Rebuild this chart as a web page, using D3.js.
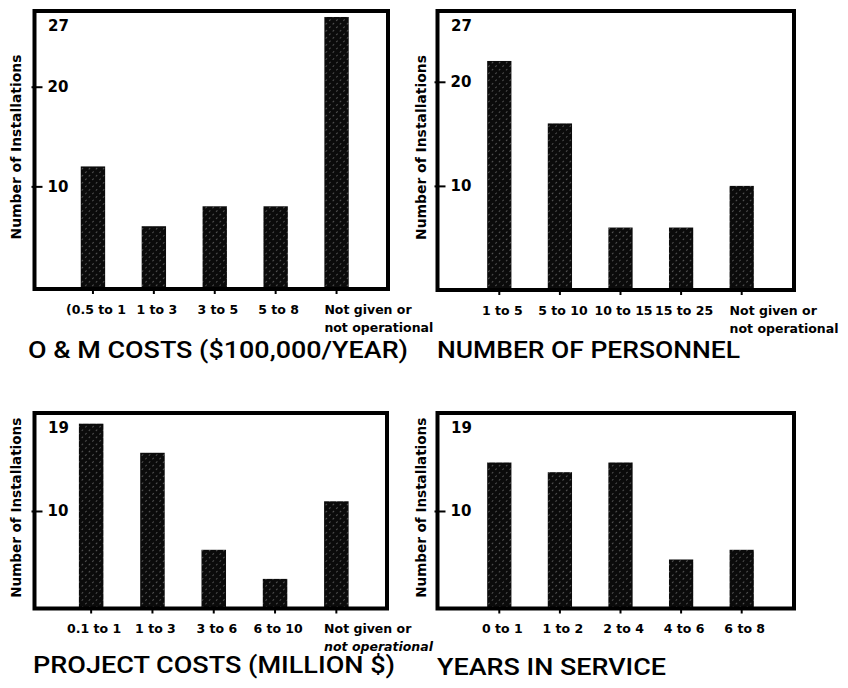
<!DOCTYPE html>
<html>
<head>
<meta charset="utf-8">
<script src="https://cdn.jsdelivr.net/npm/d3@7"></script>
<style>
  html, body { margin: 0; padding: 0; background: #fff; }
  svg { display: block; }
  .tick text { font-family: "DejaVu Sans", sans-serif; font-weight: bold; fill: #000; }
  .title { font-family: Roboto, "DejaVu Sans", sans-serif; font-weight: 500; fill: #000; }
</style>
</head>
<body>
<script>
// ---------- DATA ----------
const omCategories = ["(0.5 to 1", "1 to 3", "3 to 5", "5 to 8", "Not given or\nnot operational"];
const omValues = [12, 6, 8, 8, 27];

const personnelCategories = ["1 to 5", "5 to 10", "10 to 15", "15 to 25", "Not given or\nnot operational"];
const personnelValues = [22, 16, 6, 6, 10];

const projectCategories = ["0.1 to 1", "1 to 3", "3 to 6", "6 to 10", "Not given or\nnot operational"];
const projectValues = [19, 16, 6, 3, 11];

const yearsCategories = ["0 to 1", "1 to 2", "2 to 4", "4 to 6", "6 to 8"];
const yearsValues = [15, 14, 15, 5, 6];

const topTickValues = [10, 20];
const topMaxLabel = "27";
const bottomTickValues = [10];
const bottomMaxLabel = "19";

const yAxisTitle = "Number of Installations";
const titles = ["O & M COSTS ($100,000/YEAR)", "NUMBER OF PERSONNEL", "PROJECT COSTS (MILLION $)", "YEARS IN SERVICE"];

// ---------- LAYOUT ----------
const W = 848, H = 688;
const svg = d3.select("body").append("svg").attr("width", W).attr("height", H);

const defs = svg.append("defs");
const pat = defs.append("pattern")
  .attr("id", "hatch").attr("patternUnits", "userSpaceOnUse")
  .attr("width", 5).attr("height", 5)
  .attr("patternTransform", "rotate(45)");
pat.append("rect").attr("width", 5).attr("height", 5).attr("fill", "#0b0b0b");
pat.append("line").attr("x1", 2.5).attr("y1", 0).attr("x2", 2.5).attr("y2", 5)
  .attr("stroke", "#fff").attr("stroke-opacity", 0.33).attr("stroke-width", 0.9)
  .attr("stroke-dasharray", "2 3");

const panels = [
  { cats: omCategories, vals: omValues, ticks: topTickValues, maxLabel: topMaxLabel,
    frame: { x0: 34.5, x1: 388, y0: 11, y1: 289 }, zeroY: 286, yTop: 27.6,
    xr: [62.5, 367], italic: false, yTitleX: 16, title: titles[0], tx0: 28, tx1: 408, tb: 358 },
  { cats: personnelCategories, vals: personnelValues, ticks: topTickValues, maxLabel: topMaxLabel,
    frame: { x0: 437.5, x1: 794, y0: 11, y1: 290 }, zeroY: 290, yTop: 26.8,
    xr: [469, 772], italic: false, yTitleX: 421, title: titles[1], tx0: 437, tx1: 740, tb: 358 },
  { cats: projectCategories, vals: projectValues, ticks: bottomTickValues, maxLabel: bottomMaxLabel,
    frame: { x0: 34.5, x1: 387, y0: 413, y1: 608.5 }, zeroY: 608, yTop: 20.1,
    xr: [60.5, 367], italic: true, yTitleX: 16.5, title: titles[2], tx0: 33, tx1: 395, tb: 673 },
  { cats: yearsCategories, vals: yearsValues, ticks: bottomTickValues, maxLabel: bottomMaxLabel,
    frame: { x0: 437.5, x1: 794, y0: 413, y1: 608.5 }, zeroY: 608, yTop: 20.1,
    xr: [469, 772], italic: false, yTitleX: 421, title: titles[3], tx0: 437, tx1: 666, tb: 675 }
];

panels.forEach(p => {
  const g = svg.append("g");
  const f = p.frame;
  const x = d3.scaleBand().domain(p.cats).range(p.xr).paddingInner(0.6).paddingOuter(0.3);
  const y = d3.scaleLinear().domain([0, p.yTop]).range([p.zeroY, f.y0]);

  // bars
  g.selectAll("rect.bar").data(p.cats.map((c, i) => ({ c, v: p.vals[i] })))
    .join("rect").attr("class", "bar")
    .attr("x", d => x(d.c)).attr("width", x.bandwidth())
    .attr("y", d => y(d.v)).attr("height", d => f.y1 - y(d.v))
    .attr("fill", "url(#hatch)");

  // frame
  g.append("rect").attr("x", f.x0).attr("y", f.y0)
    .attr("width", f.x1 - f.x0).attr("height", f.y1 - f.y0)
    .attr("fill", "none").attr("stroke", "#000").attr("stroke-width", 4);

  // y axis (ticks inside frame)
  const ya = g.append("g").attr("transform", `translate(${f.x0},0)`)
    .call(d3.axisRight(y).tickValues(p.ticks).tickSize(8).tickPadding(5).tickFormat(d3.format("d")));
  ya.select(".domain").remove();
  ya.selectAll(".tick line").attr("x1", -3).attr("stroke-width", 2);
  ya.selectAll(".tick text").style("font-size", "15px");

  // max label
  g.append("text").attr("x", f.x0 + 13.5).attr("y", f.y0 + 20)
    .style("font-family", "DejaVu Sans, sans-serif").style("font-weight", "bold")
    .style("font-size", "15px").text(p.maxLabel);

  // x axis
  const xa = g.append("g").attr("transform", `translate(0,${f.y1})`)
    .call(d3.axisBottom(x).tickSize(5).tickPadding(11));
  xa.select(".domain").remove();
  xa.selectAll(".tick line").attr("stroke-width", 2);
  xa.selectAll(".tick text").style("font-size", "12.5px").each(function(d) {
    const t = d3.select(this);
    const lines = d.split("\n");
    if (lines.length > 1) {
      t.text(null).attr("text-anchor", "start").attr("x", -x.bandwidth() / 2);
      lines.forEach((ln, i) => {
        t.append("tspan").attr("x", -x.bandwidth() / 2).attr("dy", i === 0 ? null : "18px")
          .style("font-style", (i === 1 && p.italic) ? "italic" : null)
          .text(ln);
      });
    } else {
      t.attr("dx", 3);
    }
  });

  // y axis title
  g.append("text")
    .attr("transform", `translate(${p.yTitleX},${(f.y0 + f.y1) / 2 - 3}) rotate(-90)`)
    .attr("text-anchor", "middle").attr("dy", "0.35em")
    .attr("textLength", f.y1 - f.y0 > 250 ? 185 : 180).attr("lengthAdjust", "spacingAndGlyphs")
    .style("font-family", "DejaVu Sans, sans-serif").style("font-weight", "bold")
    .style("font-size", "14px").text(yAxisTitle);

  // panel title
  g.append("text").attr("class", "title")
    .attr("x", p.tx0).attr("y", p.tb)
    .attr("textLength", p.tx1 - p.tx0).attr("lengthAdjust", "spacingAndGlyphs")
    .style("font-size", "23px").text(p.title);
});
</script>
</body>
</html>
